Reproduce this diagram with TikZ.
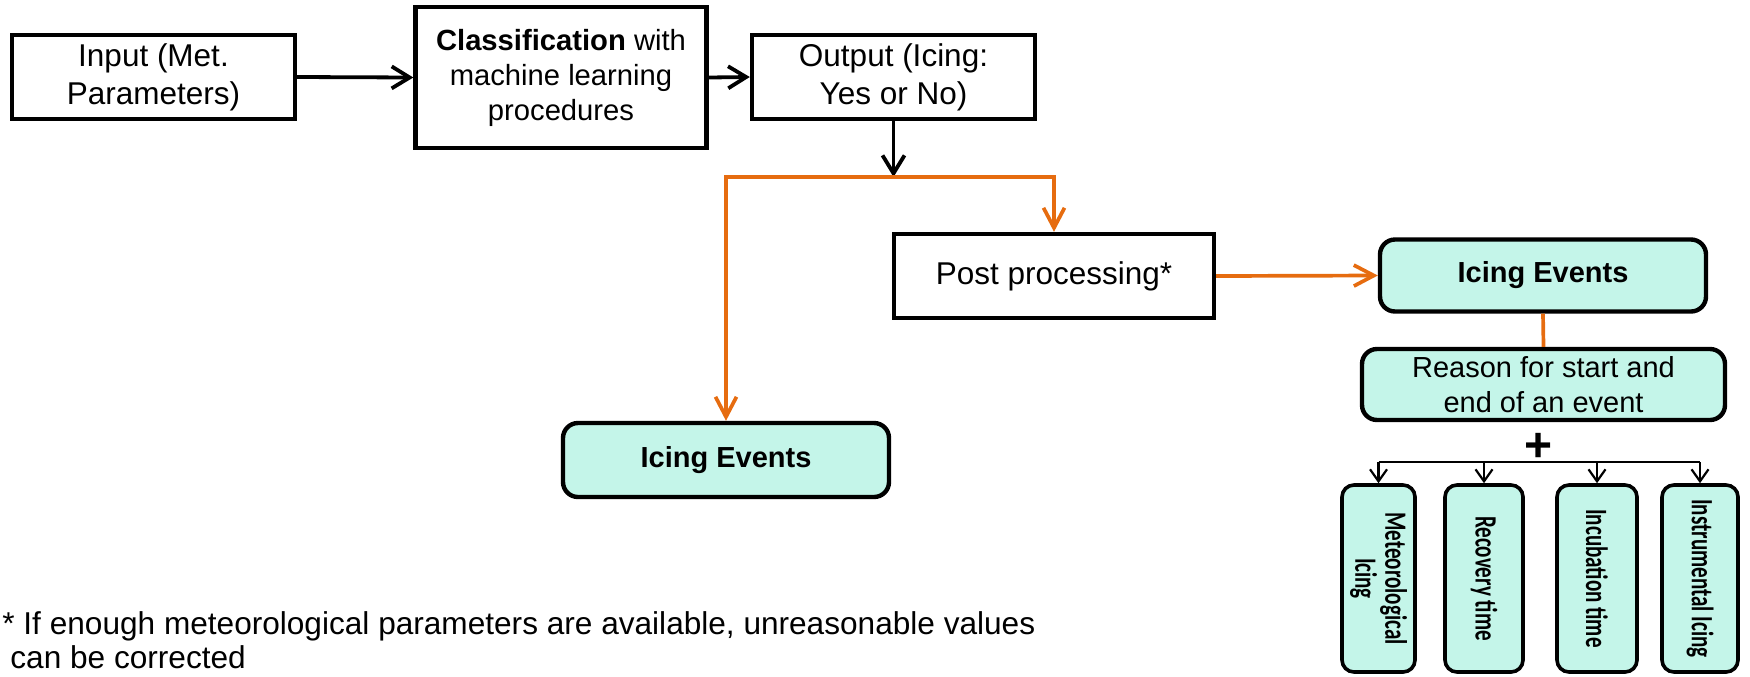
\documentclass[tikz,border=0pt]{standalone}
\usepackage{fontspec}
\setmainfont{Liberation Sans}
\newfontfamily\narrowfont[FakeStretch=0.68]{Carlito}
\usetikzlibrary{arrows.meta}
\definecolor{mint}{RGB}{196,245,233}
\definecolor{orng}{RGB}{230,108,16}

\begin{document}
\begin{tikzpicture}[x=0.5pt,y=-0.5pt,
  plainbox/.style={draw, line width=2.2pt, inner sep=0pt, align=center,
    font=\fontsize{15.75}{19}\selectfont},
  evbox/.style={draw, fill=mint, line width=2.2pt, rounded corners=7.5pt,
    inner sep=0pt, align=center, font=\fontsize{14.5}{17.5}\selectfont},
  smallbox/.style={draw, fill=mint, line width=1.8pt, rounded corners=6pt,
    inner sep=0pt, minimum height=93.5pt},
  smalltext/.style={rotate=-90, align=center, inner sep=0pt,
    font=\narrowfont\bfseries\fontsize{15.5}{15}\selectfont},
  blk/.style={line width=1.9pt, -{Straight Barb[length=9pt,width=11pt]}},
  orgline/.style={draw=orng, line width=1.85pt},
  orgarrow/.style={orgline, -{Straight Barb[length=10pt,width=10.5pt]}},
  fanline/.style={line width=1.1pt},
  fanarrow/.style={line width=1.1pt, -{Straight Barb[length=6pt,width=8.5pt]}}
]
\useasboundingbox (0,0) rectangle (1750,676);

% top row
\node[plainbox, minimum width=141.5pt, minimum height=42pt] (inp) at (153.5,77)
  {Input (Met.\\Parameters)};
\node[plainbox, minimum width=145.5pt, minimum height=70.5pt,
  font=\fontsize{14.6}{17.5}\selectfont] (cls) at (561,77.5)
  {\textbf{Classification} with\\machine learning\\procedures};
\node[plainbox, minimum width=141.5pt, minimum height=42pt] (out) at (893.5,77)
  {Output (Icing:\\Yes or No)};

% middle
\node[plainbox, minimum width=160pt, minimum height=42pt] (post) at (1054,276)
  {Post processing*};
\node[evbox, minimum width=163pt, minimum height=37pt] (icL) at (726,460)
  {\textbf{Icing Events}};
\node[evbox, minimum width=163pt, minimum height=36pt] (icR) at (1543,275.5)
  {\textbf{Icing Events}};
\node[evbox, minimum width=181.5pt, minimum height=35.5pt] (rsn) at (1543.5,384.5)
  {Reason for start and\\end of an event};

% plus sign
\node[inner sep=0pt, font=\fontsize{24}{24}\bfseries\selectfont] (plus) at (1538,447) {+};

% small boxes
\node[smallbox, minimum width=36.5pt] (m1) at (1378.5,578.5) {};
\node[smallbox, minimum width=39pt]   (m2) at (1484,578.5) {};
\node[smallbox, minimum width=40pt]   (m3) at (1597,578.5) {};
\node[smallbox, minimum width=38pt]   (m4) at (1700,578.5) {};
\node[smalltext] (m1t) at (m1.center) {Meteorological\\Icing};
\node[smalltext] (m2t) at (m2.center) {Recovery time};
\node[smalltext] (m3t) at (m3.center) {Incubation time};
\node[smalltext] (m4t) at (m4.center) {Instrumental Icing};

% footnote
\node[anchor=north west, inner sep=0pt, align=left,
  font=\fontsize{15.8}{17}\selectfont] (note) at (2,611)
  {* If enough meteorological parameters are available, unreasonable values\\
   \hspace*{4pt}can be corrected};

% connectors
\coordinate (split) at (893.5,177);
\coordinate (fan) at (1540,462);
\draw[blk] (inp.east) -- (cls.west);
\draw[blk] (cls.east) -- (out.west);
\draw[blk] (out.south) -- (split);
\draw[orgarrow] (split) -| (icL.north);
\draw[orgarrow] (split) -| (post.north);
\draw[orgarrow] (post.east) -- (icR.west);
\draw[orgline] (icR.south) -- (rsn.north);
\draw[fanline] (m1.north |- fan) -- (m4.north |- fan);
\draw[fanarrow] (m1.north |- fan) -- (m1.north);
\draw[fanarrow] (m2.north |- fan) -- (m2.north);
\draw[fanarrow] (m3.north |- fan) -- (m3.north);
\draw[fanarrow] (m4.north |- fan) -- (m4.north);
\end{tikzpicture}
\end{document}
